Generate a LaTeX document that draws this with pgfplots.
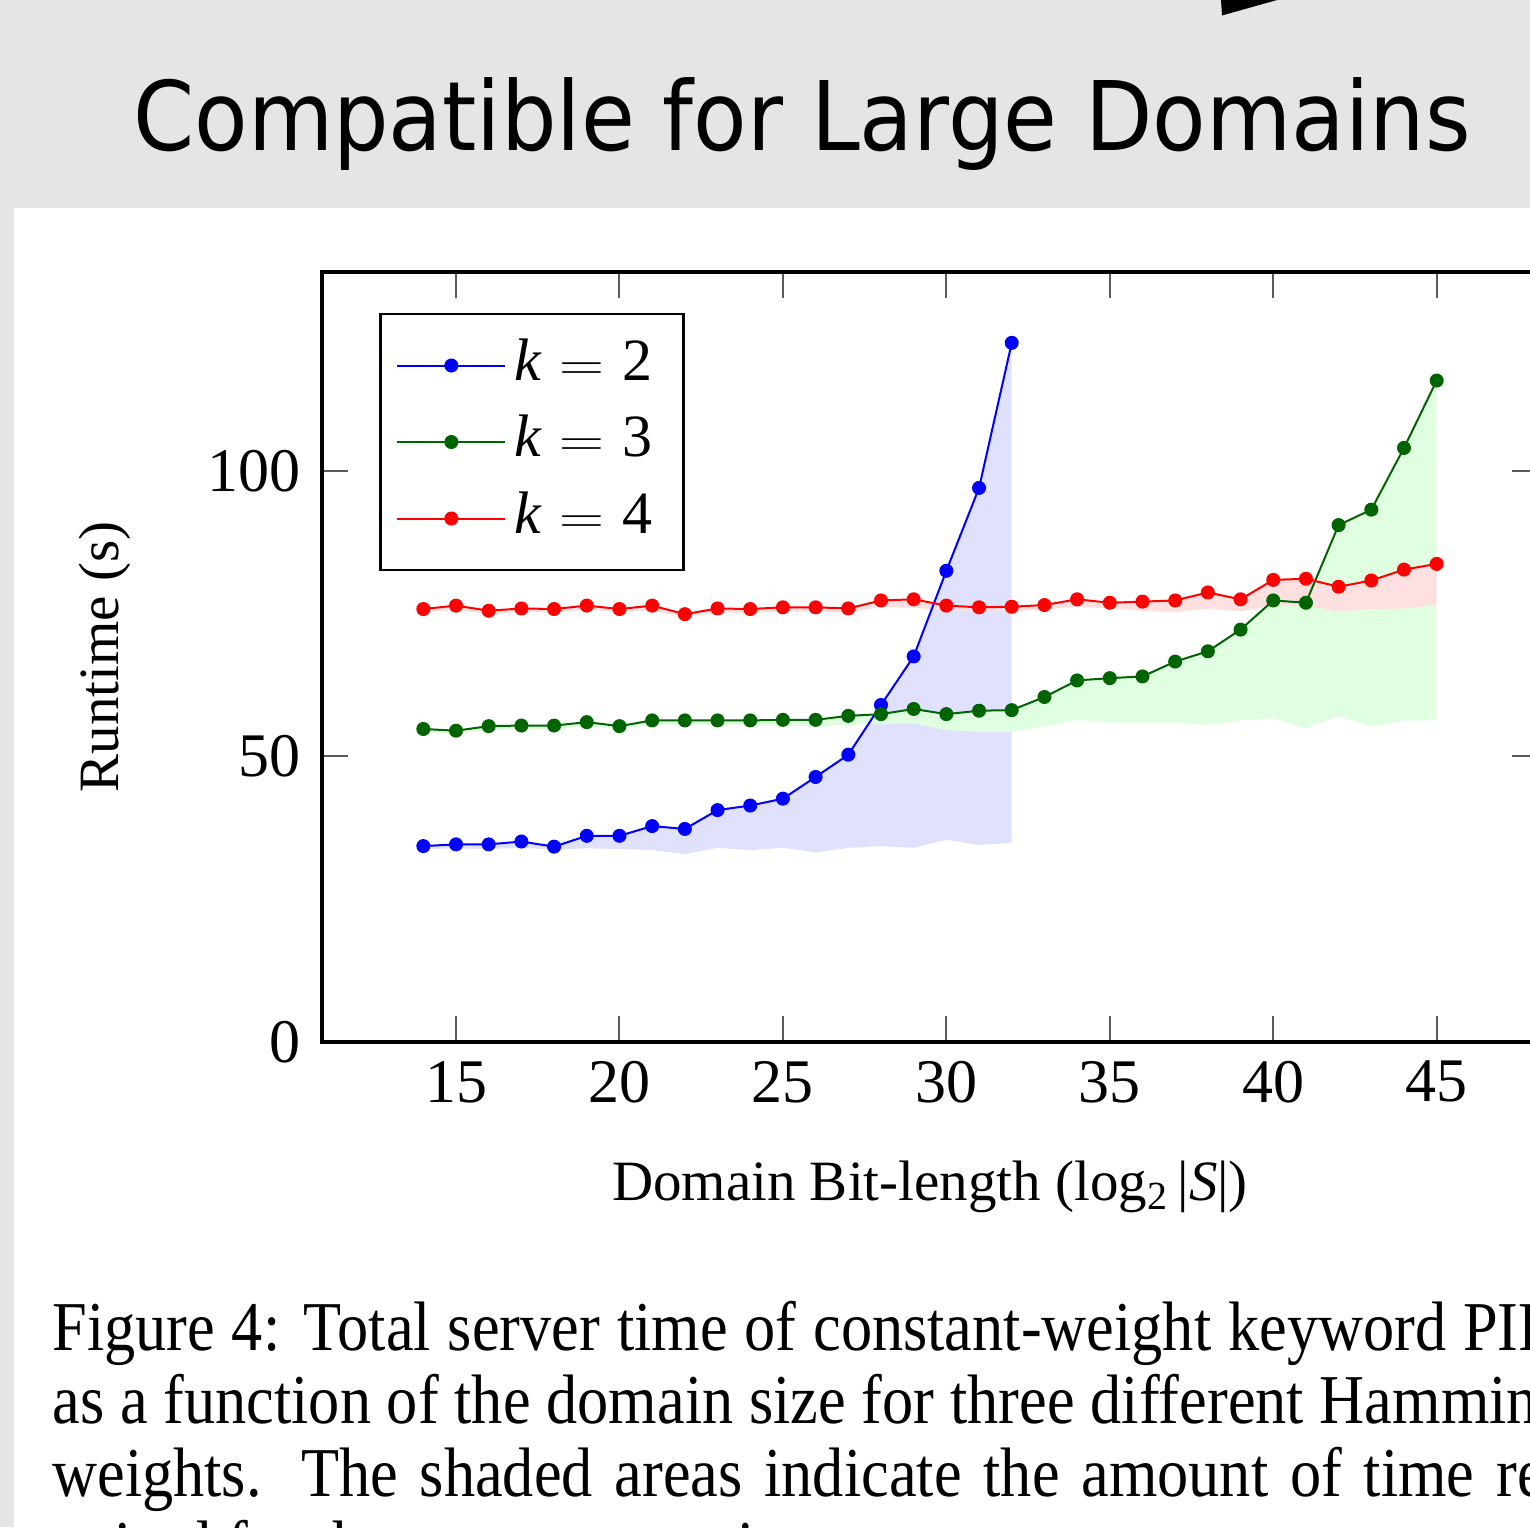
\documentclass[border=0pt]{standalone}
\usepackage{fontspec}
\setmainfont{Liberation Serif}
\newfontfamily\titlefont{DejaVu Sans}
\usepackage{pgfplots}
\usepackage{pgfplotstable}
\pgfplotsset{compat=1.18}
\usepgfplotslibrary{fillbetween}

\definecolor{slidegray}{RGB}{229,229,229}
\definecolor{kthree}{RGB}{0,100,0}

% x = log2 |S|, y = total runtime, lo = lower edge of the shaded area
\pgfplotstableread{
x y lo
14 34.3 33.8
15 34.6 33.9
16 34.6 33.8
17 35.1 34.0
18 34.2 33.7
19 36.1 33.9
20 36.1 33.8
21 37.8 33.6
22 37.3 32.9
23 40.6 34.0
24 41.4 33.6
25 42.6 34.0
26 46.4 33.2
27 50.3 34.0
28 59.0 34.3
29 67.5 34.0
30 82.5 35.4
31 97.0 34.5
32 122.4 34.9
}\kTwo

\pgfplotstableread{
x y lo
14 54.8 54.2
15 54.5 54.0
16 55.3 54.6
17 55.4 54.8
18 55.4 54.8
19 56.0 55.2
20 55.3 54.8
21 56.3 55.6
22 56.3 55.5
23 56.3 55.5
24 56.3 55.4
25 56.4 55.4
26 56.4 55.2
27 57.1 55.5
28 57.4 55.7
29 58.3 55.8
30 57.4 54.6
31 58.0 54.3
32 58.1 54.3
33 60.4 55.2
34 63.3 56.4
35 63.7 55.9
36 64.0 55.8
37 66.6 55.9
38 68.4 55.5
39 72.2 56.3
40 77.3 56.7
41 76.9 54.9
42 90.5 57.1
43 93.2 55.2
44 104.0 56.3
45 115.8 56.3
}\kThree

\pgfplotstableread{
x y lo
14 75.8 75.2
15 76.4 75.6
16 75.5 74.9
17 75.9 75.3
18 75.8 75.2
19 76.4 75.7
20 75.8 75.2
21 76.4 75.6
22 74.9 74.3
23 75.9 75.2
24 75.8 75.1
25 76.1 75.4
26 76.1 75.3
27 75.9 75.2
28 77.3 76.2
29 77.5 76.0
30 76.4 75.6
31 76.1 75.4
32 76.2 75.4
33 76.5 75.7
34 77.5 76.2
35 76.9 75.9
36 77.1 75.5
37 77.3 75.2
38 78.7 75.9
39 77.5 75.4
40 80.9 76.4
41 81.1 76.4
42 79.7 75.4
43 80.8 75.8
44 82.7 75.9
45 83.7 76.5
}\kFour

\newcommand\capfont{\fontsize{35}{42}\selectfont}
\newcommand\capline[2]{\capfont\scalebox{0.89}[1]{\makebox[#1][s]{#2}}}
\newcommand\kentry[1]{\textit{k}\hspace{9pt}\scalebox{1.25}[1]{$=$}\hspace{9pt}#1\rule{3.5pt}{0pt}}

\begin{document}
\begin{tikzpicture}
% slide around the paper crop, in pixel units of the screenshot
\begin{scope}[x=0.5pt,y=-0.5pt]
\fill[slidegray] (0,0) rectangle (1530,208);
\fill[slidegray] (0,0) rectangle (14,1527);
\fill[black] (1221,0) -- (1222,15.5) -- (1277,0) -- cycle;
\node[anchor=base, inner sep=0pt] at (802,150)
  {\titlefont\fontsize{48}{58}\selectfont\scalebox{0.912}[1]{Compatible for Large Domains}};
\node[anchor=base west, inner sep=0pt] at (52,1350)
  {\capline{847pt}{Figure 4: Total server time of constant-weight keyword PIR}};
\node[anchor=base west, inner sep=0pt] at (52,1423)
  {\capline{852pt}{as a function of the domain size for three different Hamming}};
\node[anchor=base west, inner sep=0pt] at (52,1496)
  {\capline{850pt}{weights. The shaded areas indicate the amount of time re-}};
\node[anchor=base west, inner sep=0pt] at (52,1569)
  {\capfont\scalebox{0.89}[1]{quired for the query expansion.}};
\end{scope}

\begin{axis}[
    at={(161pt,-521pt)}, anchor=south west,
    scale only axis,
    width=608pt, height=385pt,
    xmin=10.9, xmax=48.1,
    ymin=0, ymax=134.8,
    xtick={15,20,...,45},
    ytick={0,50,100},
    axis line style={line width=1.6pt},
    tick style={black!65, line width=1pt},
    major tick length=13pt,
    /pgf/number format/assume math mode=true,
    tick label style={font=\fontsize{31}{37}\selectfont},
    xticklabel style={yshift=-6pt},
    yticklabel style={xshift=-7pt},
    label style={font=\fontsize{28.5}{34}\selectfont},
    xlabel={Domain Bit-length (log\textsubscript{2}\,|\textit{S}|)},
    ylabel={Runtime (s)},
    xlabel style={at={(axis description cs:0.5,-0.2052)}, anchor=base},
    ylabel style={at={(axis description cs:-0.167,0.5)}, anchor=base, rotate=0},
    legend style={at={(0.047,0.947)}, anchor=north west, draw=black,
      line width=1.2pt, fill=white, inner xsep=8pt, inner ysep=9pt,
      font=\fontsize{30}{36}\selectfont, row sep=4.75pt,
      nodes={inner sep=4pt, text height=20pt, text depth=5.5pt}},
    legend cell align=left,
    legend image code/.code={%
      \draw[mark repeat=2, mark phase=2] plot coordinates {(0pt,0pt) (27pt,0pt) (54pt,0pt)};},
]
% shaded areas
\addplot[draw=none, forget plot, name path=twohi] table[x=x, y=y] {\kTwo};
\addplot[draw=none, forget plot, name path=twolo] table[x=x, y=lo] {\kTwo};
\addplot[draw=none, forget plot, name path=threehi] table[x=x, y=y] {\kThree};
\addplot[draw=none, forget plot, name path=threelo] table[x=x, y=lo] {\kThree};
\addplot[draw=none, forget plot, name path=fourhi] table[x=x, y=y] {\kFour};
\addplot[draw=none, forget plot, name path=fourlo] table[x=x, y=lo] {\kFour};
\addplot[fill=blue!12, draw=none, forget plot] fill between[of=twohi and twolo];
\addplot[fill=green!12, draw=none, forget plot] fill between[of=threehi and threelo];
\addplot[fill=red!12, draw=none, forget plot] fill between[of=fourhi and fourlo];
% runtimes
\addplot[blue, line width=1pt, mark=*, mark size=3pt, mark options={fill=blue}] table[x=x, y=y] {\kTwo};
\addplot[kthree, line width=1pt, mark=*, mark size=3pt, mark options={fill=kthree}] table[x=x, y=y] {\kThree};
\addplot[red, line width=1pt, mark=*, mark size=3pt, mark options={fill=red}] table[x=x, y=y] {\kFour};
\legend{\kentry{2}, \kentry{3}, \kentry{4}}
\end{axis}
\pgfresetboundingbox
\useasboundingbox (0,0) rectangle (765pt,-763.5pt);
\end{tikzpicture}
\end{document}
